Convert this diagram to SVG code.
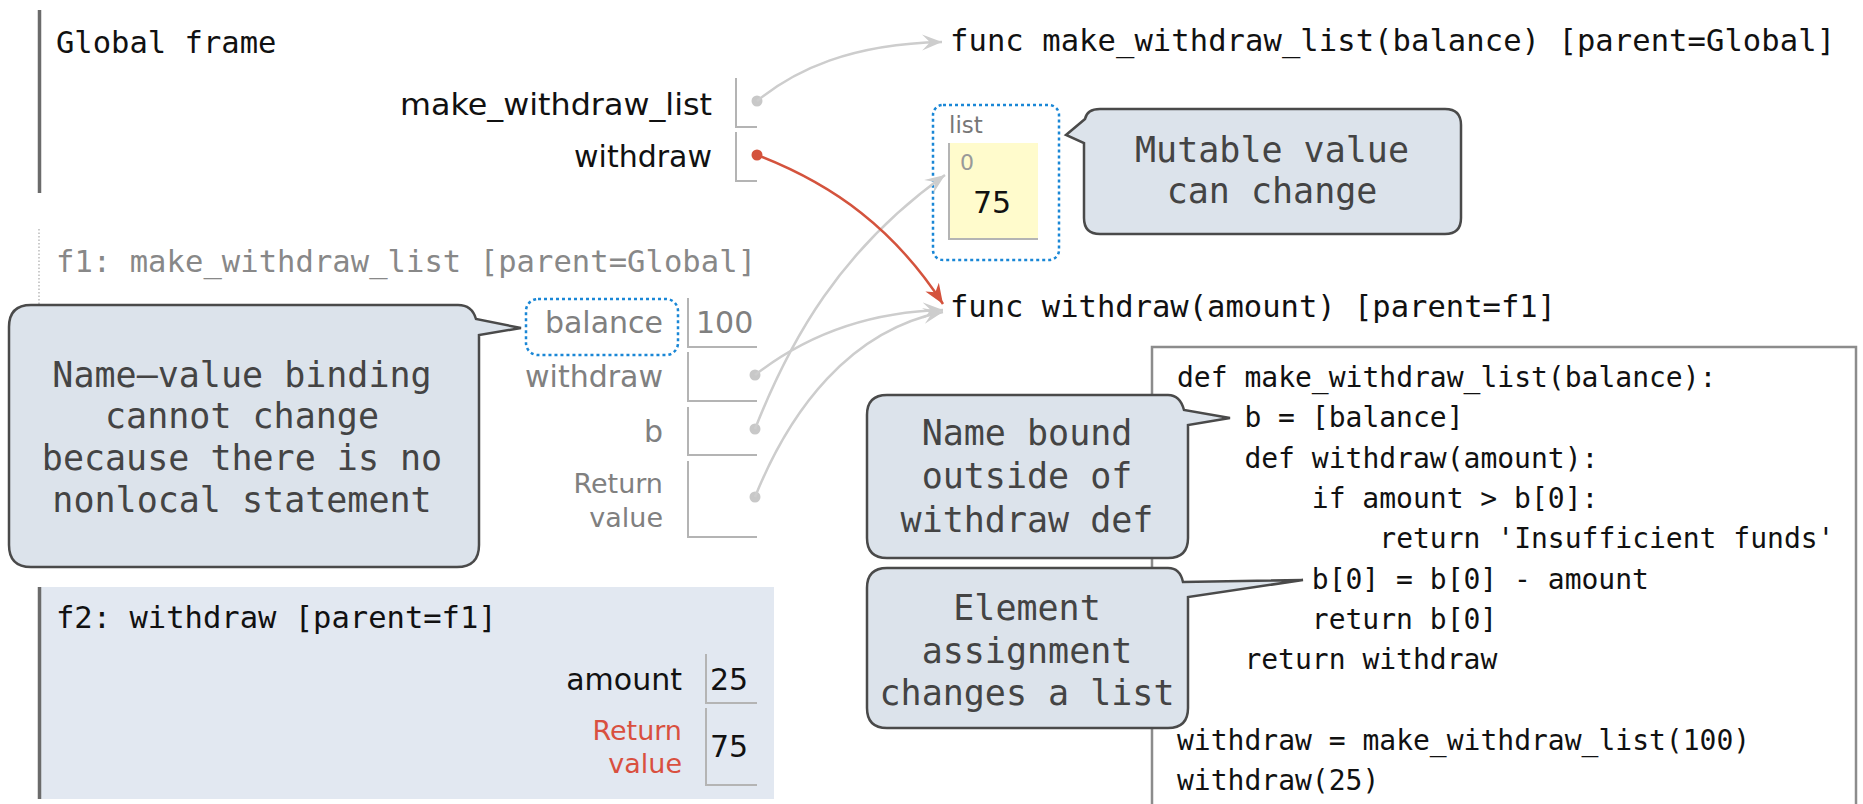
<svg xmlns="http://www.w3.org/2000/svg" width="1863" height="804" viewBox="0 0 1863 804">
<style>
.mono{font-family:"DejaVu Sans Mono","Liberation Mono",monospace;}
.sans{font-family:"DejaVu Sans","Liberation Sans",sans-serif;}
.hdr{font-size:30.5px;fill:#111;}
.hdr-g{font-size:30.5px;fill:#888;}
.lbl{font-size:30px;fill:#111;text-anchor:end;}
.lbl-g{font-size:30px;fill:#808080;text-anchor:end;}
.ret{font-size:27px;text-anchor:end;}
.val{font-size:30px;fill:#111;}
.box{fill:none;stroke:#b4b4b4;stroke-width:2;}
.bar{stroke:#6b6b6b;stroke-width:3.5;}
.code{font-size:28px;fill:#111;}
.callout{fill:#dce3eb;stroke:#4a4a4a;stroke-width:2.5;}
.ctext{font-size:35px;fill:#444;text-anchor:middle;}
.hl{fill:none;stroke:#1a87d6;stroke-width:2.5;stroke-dasharray:3 3;}
.gray{fill:none;stroke:#cdcdcd;stroke-width:2.5;}
.red{fill:none;stroke:#d4533d;stroke-width:2.5;}
.dot-g{fill:#c8c8c8;}
.dot-r{fill:#d4533d;}
</style>
<defs>
<marker id="ah-gray" markerUnits="userSpaceOnUse" markerWidth="22" markerHeight="18" refX="20" refY="9" orient="auto" viewBox="0 0 22 18">
<path d="M0,1 L20,9 L0,17 L8,9 Z" fill="#cdcdcd"/>
</marker>
<marker id="ah-red" markerUnits="userSpaceOnUse" markerWidth="22" markerHeight="18" refX="20" refY="9" orient="auto" viewBox="0 0 22 18">
<path d="M0,1 L20,9 L0,17 L6,9 Z" fill="#d4533d"/>
</marker>
</defs>

<g id="global-frame">
<line class="bar" x1="39.5" y1="10" x2="39.5" y2="193"/>
<text class="mono hdr" x="56" y="53">Global frame</text>
<text class="sans lbl" x="712" y="115" textLength="312" lengthAdjust="spacingAndGlyphs">make_withdraw_list</text>
<polyline class="box" points="736,78 736,127 757,127"/>
<circle class="dot-g" cx="757" cy="101" r="5.5"/>
<text class="sans lbl" x="712" y="167">withdraw</text>
<polyline class="box" points="736,132 736,181 757,181"/>
<circle class="dot-r" cx="757" cy="155" r="5.5"/>
</g>

<g id="f1-frame">
<line x1="39" y1="229" x2="39" y2="537" stroke="#aaa" stroke-width="1.2" stroke-dasharray="1.5 2"/>
<text class="mono hdr-g" x="56" y="272" textLength="700" lengthAdjust="spacing">f1: make_withdraw_list [parent=Global]</text>
<rect class="hl" x="526" y="299" width="152" height="56" rx="12"/>
<text class="sans lbl-g" x="663" y="333">balance</text>
<polyline class="box" points="688,298 688,347 757,347"/>
<text class="sans val" x="696" y="333" style="fill:#808080">100</text>
<text class="sans lbl-g" x="663" y="387">withdraw</text>
<polyline class="box" points="688,352 688,401 757,401"/>
<circle class="dot-g" cx="755" cy="375" r="5.5"/>
<text class="sans lbl-g" x="663" y="442">b</text>
<polyline class="box" points="688,407 688,455 757,455"/>
<circle class="dot-g" cx="755" cy="429" r="5.5"/>
<text class="sans ret" x="663" y="493" fill="#808080">Return</text>
<text class="sans ret" x="663" y="527" fill="#808080">value</text>
<polyline class="box" points="688,461 688,537 757,537"/>
<circle class="dot-g" cx="755" cy="497" r="5.5"/>
</g>

<g id="f2-frame">
<rect x="38" y="587" width="736" height="212" fill="#e2e8f1"/>
<line class="bar" x1="39.5" y1="587" x2="39.5" y2="799"/>
<text class="mono hdr" x="56" y="628">f2: withdraw [parent=f1]</text>
<text class="sans lbl" x="682" y="690">amount</text>
<polyline class="box" points="706,654 706,703 757,703"/>
<text class="sans val" x="710" y="690">25</text>
<text class="sans ret" x="682" y="740" fill="#d9503f">Return</text>
<text class="sans ret" x="682" y="773" fill="#d9503f">value</text>
<polyline class="box" points="706,708 706,785 757,785"/>
<text class="sans val" x="710" y="757">75</text>
</g>

<g id="func-make-withdraw-list">
<text class="mono hdr" x="950" y="51" textLength="885" lengthAdjust="spacing">func make_withdraw_list(balance) [parent=Global]</text>
</g>

<g id="list-object">
<rect class="hl" x="933" y="105" width="126" height="155" rx="10"/>
<text class="sans" x="949" y="133" font-size="23" fill="#777">list</text>
<rect x="949" y="143" width="89" height="96" fill="#fffbcc"/>
<polyline class="box" points="949,143 949,239 1038,239"/>
<text class="sans" x="960" y="170" font-size="22" fill="#999">0</text>
<text class="sans val" x="973" y="213">75</text>
</g>

<g id="func-withdraw">
<text class="mono hdr" x="950" y="317">func withdraw(amount) [parent=f1]</text>
</g>

<g id="code">
<rect x="1152" y="347" width="704" height="500" fill="#fff" stroke="#8c8c8c" stroke-width="2.5"/>
<text class="mono code" x="1177" y="387">def make_withdraw_list(balance):</text>
<text class="mono code" x="1244.4" y="427">b = [balance]</text>
<text class="mono code" x="1244.4" y="468">def withdraw(amount):</text>
<text class="mono code" x="1311.8" y="508">if amount &gt; b[0]:</text>
<text class="mono code" x="1379.3" y="548">return 'Insufficient funds'</text>
<text class="mono code" x="1311.8" y="589">b[0] = b[0] - amount</text>
<text class="mono code" x="1311.8" y="629">return b[0]</text>
<text class="mono code" x="1244.4" y="669">return withdraw</text>
<text class="mono code" x="1177" y="750">withdraw = make_withdraw_list(100)</text>
<text class="mono code" x="1177" y="790">withdraw(25)</text>
</g>

<g id="connectors">
<path class="gray" d="M757,101 C795,70 850,44 942,42" marker-end="url(#ah-gray)"/>
<path class="gray" d="M755,375 C800,340 860,312 943,310" marker-end="url(#ah-gray)"/>
<path class="gray" d="M755,429 C790,340 840,250 945,175" marker-end="url(#ah-gray)"/>
<path class="gray" d="M755,497 C790,410 850,330 943,312" marker-end="url(#ah-gray)"/>
<path class="red" d="M757,155 C835,185 895,230 943,304" marker-end="url(#ah-red)"/>
</g>

<g id="callout-mutable">
<path class="callout" d="M1100,109 H1445 Q1461,109 1461,125 V218 Q1461,234 1445,234 H1100 Q1084,234 1084,218 V143 L1066,135 L1085,119 Q1087,109 1100,109 Z"/>
<text class="mono ctext" x="1272" y="162">Mutable value</text>
<text class="mono ctext" x="1272" y="203">can change</text>
</g>

<g id="callout-binding">
<path class="callout" d="M31,305 H458 Q472,305 476,319 L521,328 L479,335 V545 Q479,567 457,567 H31 Q9,567 9,545 V327 Q9,305 31,305 Z"/>
<text class="mono ctext" x="242" y="387">Name–value binding</text>
<text class="mono ctext" x="242" y="428">cannot change</text>
<text class="mono ctext" x="242" y="470">because there is no</text>
<text class="mono ctext" x="242" y="512">nonlocal statement</text>
</g>

<g id="callout-name-bound">
<path class="callout" d="M887,395 H1168 Q1180,395 1184,410 L1230,418 L1188,425 V538 Q1188,558 1168,558 H887 Q867,558 867,538 V415 Q867,395 887,395 Z"/>
<text class="mono ctext" x="1027" y="445">Name bound</text>
<text class="mono ctext" x="1027" y="488">outside of</text>
<text class="mono ctext" x="1027" y="532">withdraw def</text>
</g>

<g id="callout-element">
<path class="callout" d="M887,568 H1168 Q1180,568 1183,582 L1303,580 L1188,597 V708 Q1188,728 1168,728 H887 Q867,728 867,708 V588 Q867,568 887,568 Z"/>
<text class="mono ctext" x="1027" y="620">Element</text>
<text class="mono ctext" x="1027" y="663">assignment</text>
<text class="mono ctext" x="1027" y="705">changes a list</text>
</g>
</svg>
